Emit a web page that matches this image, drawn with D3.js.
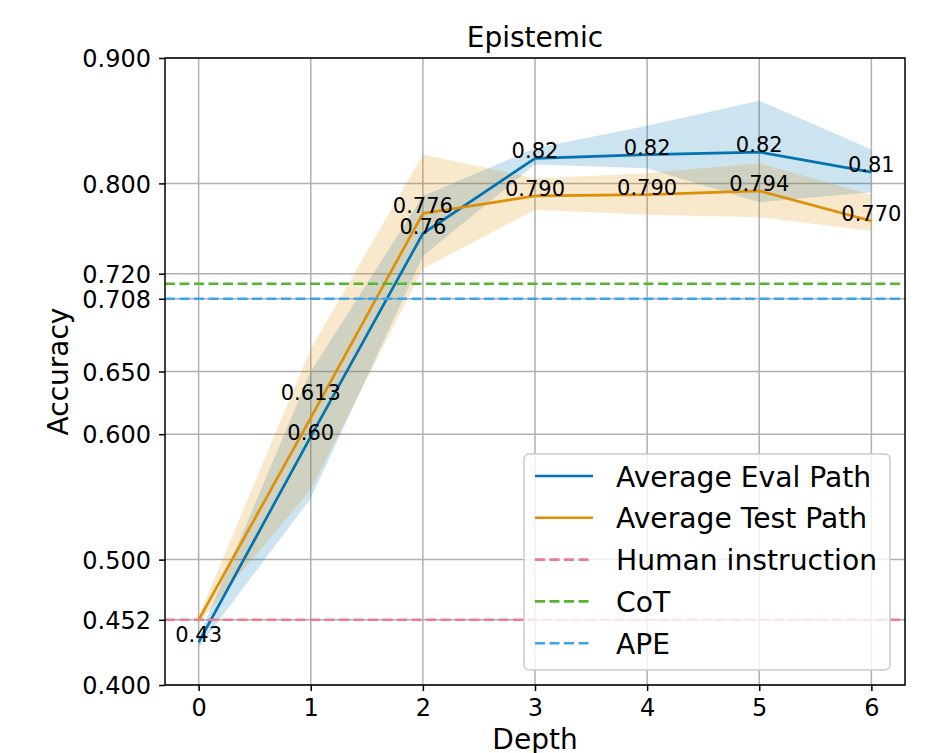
<!DOCTYPE html>
<html>
<head>
<meta charset="utf-8">
<script src="https://cdn.jsdelivr.net/npm/d3@7"></script>
<style>
  body { margin: 0; background: #fff; }
  text { font-family: "DejaVu Sans", sans-serif; }
</style>
</head>
<body>
<div id="chart"></div>
<script>
const depths = [0, 1, 2, 3, 4, 5, 6];

// Average Eval Path
const evalMean  = [0.434, 0.598, 0.760, 0.820, 0.823, 0.825, 0.809];
const evalLower = [0.430, 0.549, 0.742, 0.815, 0.812, 0.785, 0.793];
const evalUpper = [0.438, 0.650, 0.790, 0.828, 0.846, 0.866, 0.827];
const evalLabels = ["0.43", "0.60", "0.76", "0.82", "0.82", "0.82", "0.81"];

// Average Test Path
const testMean  = [0.452, 0.613, 0.776, 0.790, 0.791, 0.794, 0.770];
const testLower = [0.449, 0.556, 0.732, 0.779, 0.775, 0.773, 0.762];
const testUpper = [0.455, 0.668, 0.823, 0.804, 0.808, 0.816, 0.791];
const testLabels = ["", "0.613", "0.776", "0.790", "0.790", "0.794", "0.770"];

// baselines
const baselineNames  = ["Human instruction", "CoT", "APE"];
const baselineValues = [0.452, 0.720, 0.708];
const baselineColors = ["#f07a8f", "#55b52e", "#3ba4ee"];

const yTickValues = [0.4, 0.452, 0.5, 0.6, 0.65, 0.708, 0.728, 0.8, 0.9];
const yTickLabels = ["0.400", "0.452", "0.500", "0.600", "0.650", "0.708", "0.720", "0.800", "0.900"];

const blue = "#0173b2", orange = "#de8f05";

const width = 941, height = 753;
const margin = ({top: 58, right: 36, bottom: 68, left: 165});

const svg = d3.select("#chart").append("svg")
  .attr("width", width).attr("height", height);

const x = d3.scaleLinear()
  .domain([-0.3, 6.3])
  .range([margin.left, width - margin.right]);

const y = d3.scaleLinear()
  .domain([0.4, 0.9])
  .range([height - margin.bottom, margin.top]);

// grid
const grid = svg.append("g").attr("stroke", "#b0b0b0").attr("stroke-width", 1.5);
grid.selectAll(".vg").data(depths).join("line")
  .attr("class", "vg")
  .attr("x1", d => x(d)).attr("x2", d => x(d))
  .attr("y1", y.range()[0]).attr("y2", y.range()[1]);
grid.selectAll(".hg").data(yTickValues).join("line")
  .attr("class", "hg")
  .attr("y1", d => y(d)).attr("y2", d => y(d))
  .attr("x1", x.range()[0]).attr("x2", x.range()[1]);

// bands
const area = (lo, hi) => d3.area()
  .x((d, i) => x(depths[i]))
  .y0((d, i) => y(lo[i]))
  .y1((d, i) => y(hi[i]))(depths);

svg.append("path").attr("d", area(evalLower, evalUpper))
  .attr("fill", blue).attr("fill-opacity", 0.2);
svg.append("path").attr("d", area(testLower, testUpper))
  .attr("fill", orange).attr("fill-opacity", 0.2);

// mean lines
const line = vals => d3.line()
  .x((d, i) => x(depths[i]))
  .y((d, i) => y(vals[i]))(depths);

svg.append("path").attr("d", line(evalMean))
  .attr("fill", "none").attr("stroke", blue).attr("stroke-width", 2.7);
svg.append("path").attr("d", line(testMean))
  .attr("fill", "none").attr("stroke", orange).attr("stroke-width", 2.7);

// baselines
svg.append("g").selectAll("line").data(baselineValues).join("line")
  .attr("x1", x.range()[0]).attr("x2", x.range()[1])
  .attr("y1", d => y(d)).attr("y2", d => y(d))
  .attr("stroke", (d, i) => baselineColors[i])
  .attr("stroke-width", 2.6)
  .attr("stroke-dasharray", "10,4.5");

// value labels
const labelNudge = [0, -18, 0, 0, 0, 0, 0];
svg.append("g").attr("font-size", 21).attr("text-anchor", "middle")
  .selectAll("text").data(depths).join("text")
  .attr("x", d => x(d))
  .attr("y", (d, i) => y(evalMean[i]) + (i === 1 ? 3 : 0))
  .text((d, i) => evalLabels[i]);
svg.append("g").attr("font-size", 21).attr("text-anchor", "middle")
  .selectAll("text").data(depths).join("text")
  .attr("x", d => x(d))
  .attr("y", (d, i) => y(testMean[i]) + labelNudge[i])
  .text((d, i) => testLabels[i]);

// axes
const xAxis = svg.append("g")
  .attr("transform", `translate(0,${y.range()[0]})`)
  .call(d3.axisBottom(x).tickValues(depths).tickFormat(d3.format("d")).tickSize(6).tickPadding(8));
const yAxis = svg.append("g")
  .attr("transform", `translate(${x.range()[0]},0)`)
  .call(d3.axisLeft(y).tickValues(yTickValues).tickFormat((d, i) => yTickLabels[i]).tickSize(6).tickPadding(8));

[xAxis, yAxis].forEach(g => {
  g.select(".domain").remove();
  g.selectAll(".tick line").attr("stroke", "#000").attr("stroke-width", 1.5);
  g.selectAll(".tick text").attr("font-size", 24).attr("fill", "#000")
    .style("font-family", "DejaVu Sans");
});
yAxis.selectAll(".tick text").attr("dy", "0.36em");
xAxis.selectAll(".tick text").attr("dy", "0.72em");

// frame
svg.append("rect")
  .attr("x", x.range()[0]).attr("y", y.range()[1])
  .attr("width", x.range()[1] - x.range()[0])
  .attr("height", y.range()[0] - y.range()[1])
  .attr("fill", "none").attr("stroke", "#000").attr("stroke-width", 1.5);

// titles
svg.append("text").attr("x", (x.range()[0] + x.range()[1]) / 2).attr("y", 47)
  .attr("text-anchor", "middle").attr("font-size", 28).text("Epistemic");
svg.append("text").attr("x", (x.range()[0] + x.range()[1]) / 2).attr("y", 749)
  .attr("text-anchor", "middle").attr("font-size", 28).text("Depth");
svg.append("text")
  .attr("transform", `translate(68,${(y.range()[0] + y.range()[1]) / 2}) rotate(-90)`)
  .attr("text-anchor", "middle").attr("font-size", 28).text("Accuracy");

// legend
const legendItems = [
  {name: "Average Eval Path", color: blue, dash: null},
  {name: "Average Test Path", color: orange, dash: null},
  ...baselineNames.map((n, i) => ({name: n, color: baselineColors[i], dash: "10,4.5"}))
];
const legend = svg.append("g").attr("transform", "translate(524,454)");
legend.append("rect")
  .attr("width", 366).attr("height", 216).attr("rx", 5)
  .attr("fill", "#fff").attr("fill-opacity", 0.8)
  .attr("stroke", "#cccccc").attr("stroke-width", 1.5);
const entries = legend.selectAll(".entry").data(legendItems).join("g")
  .attr("class", "entry")
  .attr("transform", (d, i) => `translate(0,${22 + i * 41.8})`);
entries.append("line")
  .attr("x1", 11).attr("x2", 69)
  .attr("stroke", d => d.color).attr("stroke-width", 2.6)
  .attr("stroke-dasharray", d => d.dash);
entries.append("text")
  .attr("x", 92).attr("y", 10.5)
  .attr("font-size", 28.2).text(d => d.name);
</script>
</body>
</html>
